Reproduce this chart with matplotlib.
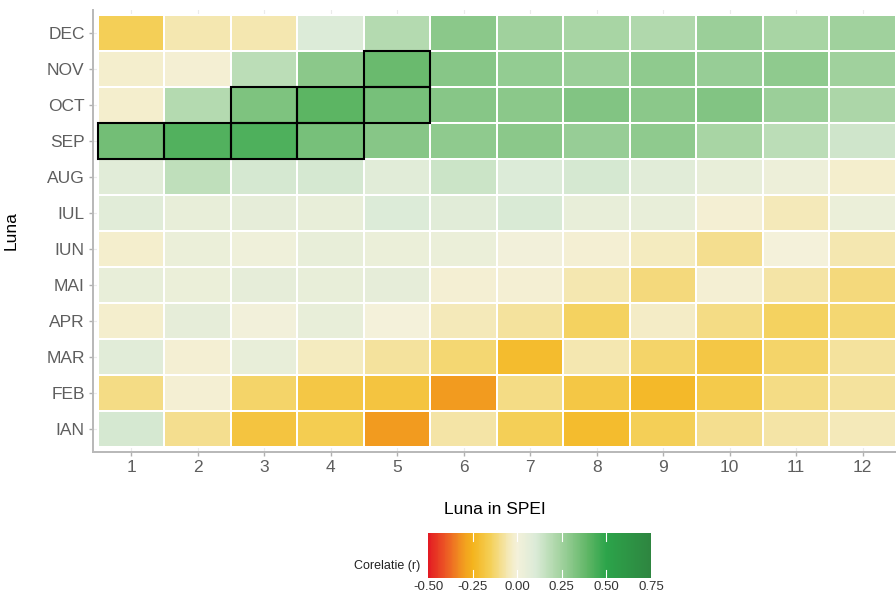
import numpy as np
import matplotlib
matplotlib.use("Agg")
import matplotlib.pyplot as plt
from matplotlib.colors import LinearSegmentedColormap, Normalize
from matplotlib.patches import Rectangle

plt.rcParams['font.family'] = ['Liberation Sans', 'DejaVu Sans']

months = ["IAN", "FEB", "MAR", "APR", "MAI", "IUN",
          "IUL", "AUG", "SEP", "OCT", "NOV", "DEC"]
lags = list(range(1, 13))

# correlation r per month, SPEI scale 1..12
ian = [0.12, -0.09, -0.19, -0.16, -0.30, -0.07, -0.15, -0.22, -0.15, -0.09, -0.07, -0.05]
feb = [-0.10, -0.01, -0.13, -0.18, -0.19, -0.30, -0.10, -0.18, -0.23, -0.17, -0.10, -0.08]
mar = [0.08, -0.01, 0.05, -0.04, -0.08, -0.12, -0.22, -0.06, -0.13, -0.18, -0.13, -0.08]
apr = [-0.02, 0.06, 0.01, 0.05, 0.00, -0.05, -0.08, -0.14, -0.03, -0.10, -0.14, -0.12]
mai = [0.05, 0.04, 0.06, 0.05, 0.06, -0.01, -0.01, -0.06, -0.11, -0.01, -0.07, -0.11]
iun = [-0.02, 0.04, 0.02, 0.05, 0.04, 0.04, 0.01, -0.01, -0.04, -0.09, 0.00, -0.06]
iul = [0.08, 0.05, 0.06, 0.05, 0.10, 0.08, 0.11, 0.05, 0.05, -0.01, -0.05, 0.04]
aug = [0.08, 0.17, 0.12, 0.12, 0.08, 0.14, 0.10, 0.12, 0.08, 0.05, 0.03, -0.02]
sep = [0.35, 0.42, 0.43, 0.34, 0.31, 0.29, 0.30, 0.27, 0.29, 0.23, 0.18, 0.13]
oct_ = [-0.02, 0.20, 0.33, 0.40, 0.34, 0.31, 0.30, 0.32, 0.30, 0.32, 0.26, 0.22]
nov = [-0.02, -0.01, 0.18, 0.30, 0.37, 0.31, 0.28, 0.26, 0.29, 0.27, 0.29, 0.25]
dec = [-0.15, -0.06, -0.06, 0.10, 0.20, 0.30, 0.25, 0.23, 0.21, 0.26, 0.23, 0.25]

# significant cells, (SPEI scale, month)
significant = [(1, "SEP"), (2, "SEP"), (3, "SEP"), (4, "SEP"),
               (3, "OCT"), (4, "OCT"), (5, "OCT"), (5, "NOV")]

r = np.array([ian, feb, mar, apr, mai, iun, iul, aug, sep, oct_, nov, dec])

vmin, vmax = -0.5, 0.75
stops = [(-0.50, "#e31a23"), (-0.40, "#ec5a24"), (-0.30, "#f29e1f"),
         (-0.25, "#f4b41d"), (-0.15, "#f4d058"), (-0.05, "#f4e9b8"),
         (0.00, "#f4f1da"), (0.10, "#dcebd8"), (0.20, "#b4dab0"),
         (0.30, "#8bc88a"), (0.40, "#5db564"), (0.50, "#2ca44a"),
         (0.75, "#2e8540")]
cmap = LinearSegmentedColormap.from_list(
    "corr", [((v - vmin) / (vmax - vmin), c) for v, c in stops])
norm = Normalize(vmin, vmax)

fig = plt.figure(figsize=(8.96, 5.98), dpi=100)
ax = fig.add_axes([93 / 896, 1 - 452 / 598, 803 / 896, 442 / 598])

x_edges = np.arange(0.5, 13.5, 1)
y_edges = np.arange(0.5, 13.5, 1)
mesh = ax.pcolormesh(x_edges, y_edges, r, cmap=cmap, norm=norm,
                     edgecolor="white", linewidth=1.2, zorder=2)

for lag, m in significant:
    y = months.index(m) + 1
    ax.add_patch(Rectangle((lag - 0.5, y - 0.5), 1, 1, fill=False,
                           edgecolor="black", linewidth=1.5, zorder=3))

ax.set_xlim(0.425, 12.5)
ax.set_ylim(0.36, 12.64)
ax.set_xticks(lags)
ax.set_yticks(range(1, 13))
ax.set_yticklabels(months)
ax.grid(True, color="#ebebeb", linewidth=0.8, zorder=0)
ax.set_axisbelow(True)

for side in ["top", "right"]:
    ax.spines[side].set_visible(False)
for side in ["left", "bottom"]:
    ax.spines[side].set_color("#b8b8b8")
    ax.spines[side].set_linewidth(1.4)
ax.tick_params(colors="#b0b0b0", labelcolor="#5e5e5e", labelsize=12.5,
               length=3, width=1, pad=3)

ax.set_xlabel("Luna in SPEI", fontsize=12.5, labelpad=19)
ax.set_ylabel("Luna", fontsize=12.5, labelpad=20)

# colour bar below the panel
cax = fig.add_axes([428 / 896, 1 - 578 / 598, 223 / 896, 45 / 598])
cb = fig.colorbar(mesh, cax=cax, orientation="horizontal",
                  ticks=[-0.5, -0.25, 0, 0.25, 0.5, 0.75])
cb.ax.set_xticklabels(["-0.50", "-0.25", "0.00", "0.25", "0.50", "0.75"])
cb.outline.set_visible(False)
cb.ax.tick_params(length=0, labelsize=9.5, labelcolor="#333333", pad=2)
for t in [-0.25, 0, 0.25, 0.5]:
    cax.plot([t, t], [0, 0.18], color="white", linewidth=0.8,
             transform=cax.get_xaxis_transform())
    cax.plot([t, t], [0.82, 1], color="white", linewidth=0.8,
             transform=cax.get_xaxis_transform())
fig.text(420 / 896, 1 - 566 / 598, "Corelatie (r)", ha="right",
         va="center", fontsize=9, color="#222222")

fig.savefig("out.png", dpi=100)
